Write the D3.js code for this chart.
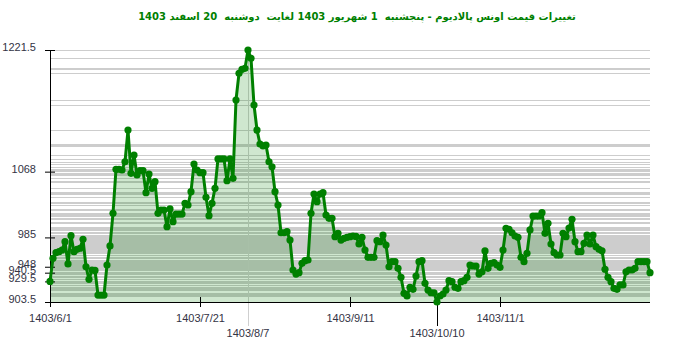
<!DOCTYPE html>
<html>
<head>
<meta charset="utf-8">
<script src="https://cdn.jsdelivr.net/npm/d3@7"></script>
<style>
body { margin: 0; background: #fff; }
text { font-family: "Liberation Sans", Arial, sans-serif; }
</style>
</head>
<body>
<svg id="chart"></svg>
<script>
// daily palladium ounce price, 1403/6/1 .. 1403/12/20
var prices = [
	929.5, 958.6, 965.7, 967.0, 969.1, 979.6, 951.5, 987.2, 967.0, 970.0,
	971.3, 982.6, 948.0, 932.1, 943.9, 943.3, 912.3, 912.3, 912.3, 950.2,
	974.2, 1015.4, 1071.0, 1071.0, 1070.1, 1080.5, 1120.5, 1065.9, 1089.0, 1063.8,
	1069.2, 1069.2, 1041.4, 1065.0, 1047.0, 1055.3, 1015.4, 1019.6, 1019.6, 998.5,
	1020.9, 1004.8, 1014.5, 1014.5, 1014.5, 1028.0, 1025.9, 1042.7, 1077.6, 1070.1,
	1066.7, 1066.7, 1035.6, 1012.4, 1028.0, 1047.0, 1084.0, 1084.0, 1084.0, 1056.6,
	1084.0, 1059.6, 1158.4, 1192.1, 1197.1, 1198.4, 1221.5,
	1211.0, 1152.1, 1120.5, 1102.9, 1100.4, 1101.6, 1080.5, 1074.2, 1042.7, 1025.9,
	990.9, 990.9, 992.2, 981.7, 943.9, 938.8, 940.5, 952.3, 955.6, 956.5,
	1015.4, 1039.8, 1030.1, 1039.8, 1041.4, 1013.3, 1009.1, 1009.1, 985.9, 990.2,
	981.7, 983.9, 985.1, 985.9, 986.8, 986.2, 976.7, 985.1, 969.1, 959.9,
	959.9, 959.9, 980.9, 979.6, 988.0, 975.4, 948.0, 954.4, 954.4, 946.0,
	934.7, 914.5, 911.1, 922.1, 919.5, 936.3, 954.4, 955.6, 927.1, 918.6,
	915.2, 915.2,
	903.5,
	911.1, 913.6, 918.6, 930.4, 929.1, 922.1, 920.8, 929.1, 930.4, 934.7,
	950.2, 948.9, 948.9, 938.8, 941.7, 967.9, 946.0, 952.3, 953.1, 950.2,
	947.3, 969.1, 996.5, 995.2, 990.9, 986.8, 985.1, 959.9, 954.4, 965.0,
	994.4, 1012.0, 1012.0, 1012.0, 1016.2, 990.2, 1002.8, 976.7, 965.7, 962.8,
	962.8, 990.2, 985.9, 996.9, 1007.9, 979.6, 967.0, 967.0, 977.6, 988.0,
	976.7, 988.0, 973.3, 970.0, 968.2, 944.8, 934.7, 929.1, 920.8, 919.5,
	925.0, 925.0, 941.7, 943.9, 943.9, 946.0, 954.4, 954.4, 954.4, 954.4,
	940.5
];

var tickIdx = [0, 50, 100, 150];
var tickLabels = ["1403/6/1", "1403/7/21", "1403/9/11", "1403/11/1"];
var maxLabel = "1403/8/7";
var minLabel = "1403/10/10";
var yTicks = [903.5, 929.5, 940.5, 948, 985, 1068, 1221.5];
var title = "تغییرات قیمت اونس پالادیوم - پنجشنبه  1 شهریور 1403 لغایت  دوشنبه  20 اسفند 1403";

var width = 700,
	height = 352,
	plotLeft = 50,
	plotRight = 650,
	plotTop = 50,
	plotBottom = 302;

var svg = d3.select("#chart")
	.attr("width", width)
	.attr("height", height);

var x = d3.scaleLinear().domain([0, prices.length - 1]).range([plotLeft, plotRight]);
var y = d3.scaleLinear().domain([903.5, 1221.5]).range([plotBottom, plotTop]);

var maxI = d3.maxIndex(prices),
	minI = d3.minIndex(prices);

svg.append("text")
	.attr("x", 357)
	.attr("y", 20)
	.attr("text-anchor", "middle")
	.attr("direction", "rtl")
	.style("white-space", "pre")
	.style("font-family", "Tahoma, 'DejaVu Sans', sans-serif")
	.style("font-weight", "bold")
	.style("font-size", "10px")
	.attr("fill", "green")
	.text(title);

// one grey line for every price
svg.append("g")
	.selectAll("line")
	.data(prices)
	.enter()
	.append("line")
	.attr("x1", plotLeft)
	.attr("x2", plotRight)
	.attr("y1", function(d){ return Math.round(y(d)) + 0.5; })
	.attr("y2", function(d){ return Math.round(y(d)) + 0.5; })
	.attr("stroke", "#cdcdcd")
	.attr("stroke-width", 1);

// max marker line
svg.append("line")
	.attr("x1", Math.round(x(maxI)) + 0.5)
	.attr("x2", Math.round(x(maxI)) + 0.5)
	.attr("y1", plotTop)
	.attr("y2", 326)
	.attr("stroke", "#cfcfcf");

var area = d3.area()
	.x(function(d, i){ return x(i); })
	.y0(plotBottom)
	.y1(function(d){ return y(d); });

svg.append("path")
	.datum(prices)
	.attr("d", area)
	.attr("fill", "green")
	.attr("fill-opacity", 0.19);

// axes
var yAxis = svg.append("g")
	.attr("transform", "translate(" + plotLeft + ",0)")
	.call(d3.axisLeft(y).tickValues(yTicks).tickSize(5).tickPadding(9).tickFormat(function(d){ return d; }));
yAxis.select(".domain").attr("stroke", "#000").attr("d", "M0.5," + plotTop + "V" + plotBottom);
yAxis.selectAll(".tick line").attr("x1", 5);
yAxis.selectAll(".tick text").attr("dy", "0.05em").style("font-size", "11px").attr("fill", "#333344");

var xAxis = svg.append("g")
	.attr("transform", "translate(0," + plotBottom + ")")
	.call(d3.axisBottom(x).tickValues(tickIdx).tickSize(5).tickFormat(function(d, i){ return tickLabels[i]; }));
xAxis.select(".domain").attr("stroke", "#000").attr("d", "M" + plotLeft + ",0.5H" + plotRight);
xAxis.selectAll(".tick line").attr("y1", -5);
xAxis.selectAll(".tick text").attr("y", 12).style("font-size", "11px").attr("fill", "#333344");

svg.append("line")
	.attr("x1", Math.round(x(minI)) + 0.5)
	.attr("x2", Math.round(x(minI)) + 0.5)
	.attr("y1", y(prices[minI]))
	.attr("y2", 326)
	.attr("stroke", "#000");

svg.selectAll("text.extreme")
	.data([[maxI, maxLabel], [minI, minLabel]])
	.enter()
	.append("text")
	.attr("class", "extreme")
	.attr("x", function(d){ return x(d[0]); })
	.attr("y", 337)
	.attr("text-anchor", "middle")
	.style("font-size", "11px")
	.attr("fill", "#333344")
	.text(function(d){ return d[1]; });

var line = d3.line()
	.x(function(d, i){ return x(i); })
	.y(function(d){ return y(d); });

svg.append("path")
	.datum(prices)
	.attr("d", line)
	.attr("fill", "none")
	.attr("stroke", "green")
	.attr("stroke-width", 3)
	.attr("stroke-linejoin", "round");

svg.append("g")
	.selectAll("circle")
	.data(prices)
	.enter()
	.append("circle")
	.attr("cx", function(d, i){ return x(i); })
	.attr("cy", function(d){ return y(d); })
	.attr("r", 3.6)
	.attr("fill", "green");
</script>
</body>
</html>
